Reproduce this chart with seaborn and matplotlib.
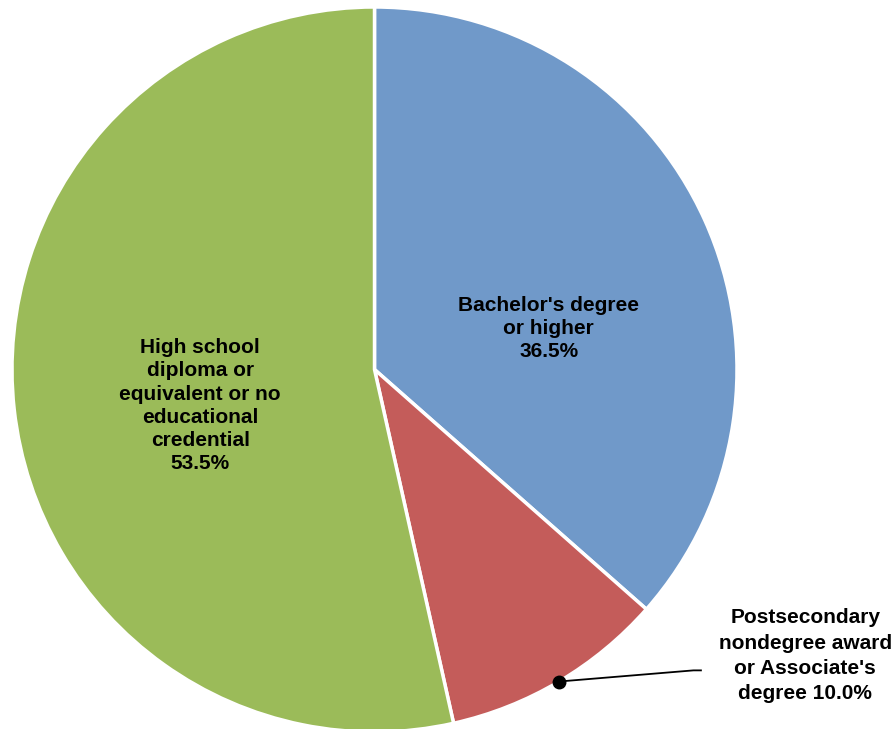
import matplotlib
matplotlib.use("Agg")
import matplotlib.pyplot as plt
import seaborn as sns
import numpy as np

categories = ["Bachelor's degree\nor higher",
              "Postsecondary\nnondegree award\nor Associate's\ndegree",
              "High school\ndiploma or\nequivalent or no\neducational\ncredential"]
values = [36.5, 10.0, 53.5]
colors = ["#7099C9", "#C45C5A", "#9BBB59"]

sns.set_theme(style="white")
plt.rcParams['font.family'] = ['Liberation Sans', 'DejaVu Sans']

W, H = 896, 729
cx, cy, R = 374.5, 369.5, 362.5

fig = plt.figure(figsize=(W / 100, H / 100), dpi=100)
ax = fig.add_axes([0, 0, 1, 1])
wedges, _ = ax.pie(values, colors=sns.color_palette(colors), startangle=90,
                   counterclock=False, radius=1.0,
                   wedgeprops=dict(edgecolor="white", linewidth=2.5))
ax.set_xlim(-cx / R, (W - cx) / R)
ax.set_ylim(-(H - cy) / R, cy / R)
ax.axis("off")

fs = 15
ax.text(0.481, 0.113, f"{categories[0]}\n{values[0]:.1f}%", ha="center", va="center",
        fontsize=fs, fontweight="bold", linespacing=1.28, color="black")
ax.text(-0.481, -0.10, f"{categories[2]}\n{values[2]:.1f}%", ha="center", va="center",
        fontsize=fs, fontweight="bold", linespacing=1.28, color="black")

# annotation for the small wedge
w = wedges[1]
mid = np.deg2rad((w.theta1 + w.theta2) / 2)
px, py = np.cos(mid), np.sin(mid)
ax.plot([px, 0.88, 0.903], [py, -0.830, -0.830], color="black", lw=1.3,
        solid_capstyle="butt")
ax.plot([px], [py], "o", color="black", markersize=9)
ax.text(1.188, -0.790, f"{categories[1]} {values[1]:.1f}%", ha="center", va="center",
        fontsize=fs, fontweight="bold", linespacing=1.42, color="black")

fig.savefig("out.png", dpi=100)
